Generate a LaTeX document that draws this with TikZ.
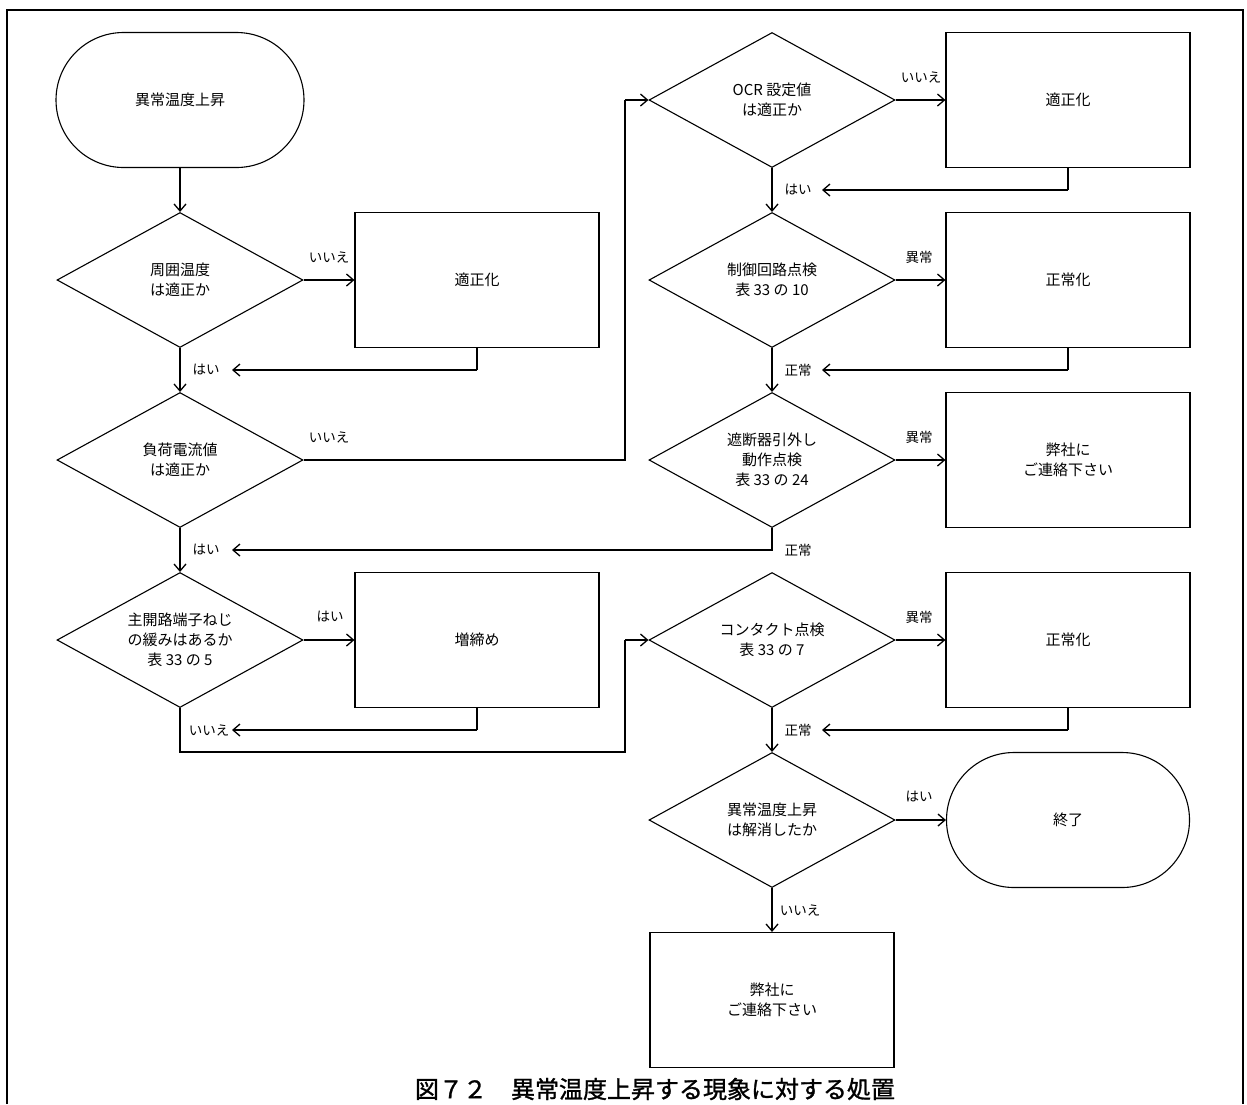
\documentclass[tikz,border=0pt]{standalone}
\usepackage{fontspec}
\setmainfont{Noto Sans CJK JP}
\newfontfamily\capfamily{Noto Sans CJK JP}[FakeBold=1.2]
\usetikzlibrary{arrows.meta,shapes.geometric,shapes.misc}
\newcommand\mynodefont{\fontsize{15pt}{20pt}\selectfont}
\newcommand\mylabfont{\fontsize{13.5pt}{16pt}\selectfont}
\newcommand\mycapfont{\capfamily\fontsize{24pt}{28pt}\selectfont}
\begin{document}
\begin{tikzpicture}[x=1pt,y=-1pt,
  box/.style={draw,line width=1.1pt,rectangle,minimum width=244pt,minimum height=135pt,inner sep=0pt,align=center,font=\mynodefont},
  dec/.style={draw,line width=1.1pt,diamond,aspect=1.82,minimum width=246pt,minimum height=135pt,inner sep=0pt,align=center,font=\mynodefont},
  term/.style={draw,line width=1.1pt,rounded rectangle,minimum width=248pt,minimum height=135pt,inner sep=0pt,align=center,font=\mynodefont},
  conn/.style={line width=2.2pt,-{Straight Barb[length=7pt,width=12pt,line width=1.3pt]}},
  wire/.style={line width=1.1pt},
  lab/.style={font=\mylabfont,inner sep=0pt},
]
\useasboundingbox (0,0) rectangle (1247,1104);
% outer frame
\draw[line width=1.1pt] (7,1104) -- (7,10) -- (1243,10) -- (1243,1104);

% left column
\node[term] (start) at (180,100) {異常温度上昇};
\node[dec] (d1) at (180,280) {周囲温度\\は適正か};
\node[box] (r1) at (477,280) {適正化};
\node[dec] (d2) at (180,460) {負荷電流値\\は適正か};
\node[dec] (d4) at (180,640) {主開路端子ねじ\\の緩みはあるか\\表 33 の 5};
\node[box] (r4) at (477,640) {増締め};

% right column
\node[dec] (d3) at (772,100) {OCR 設定値\\は適正か};
\node[box] (r3) at (1068,100) {適正化};
\node[dec] (dc) at (772,280) {制御回路点検\\表 33 の 10};
\node[box] (rc) at (1068,280) {正常化};
\node[dec] (d5) at (772,460) {遮断器引外し\\動作点検\\表 33 の 24};
\node[box] (r5) at (1068,460) {弊社に\\ご連絡下さい};
\node[dec] (d6) at (772,640) {コンタクト点検\\表 33 の 7};
\node[box] (r6) at (1068,640) {正常化};
\node[dec] (d7) at (772,820) {異常温度上昇\\は解消したか};
\node[term,minimum width=243pt] (end) at (1068,820) {終了};
\node[box] (rf) at (772,1000) {弊社に\\ご連絡下さい};

% free ends and bends
\coordinate (k1) at (232,370);
\coordinate (k2) at (232,550);
\coordinate (k3) at (232,730);
\coordinate (m1) at (822,190);
\coordinate (m2) at (822,370);
\coordinate (m3) at (822,730);
\coordinate (b1) at (625,100);
\coordinate (b2) at (625,640);
\coordinate (b3) at (625,752);

% connectors left
\draw[conn] (start.south) -- (d1.north);
\draw[conn] (d1.east) -- (r1.west);
\draw[wire] (r1.south) -- (r1.south |- k1);
\draw[conn] (r1.south |- k1) -- (k1);
\draw[conn] (d1.south) -- (d2.north);
\draw[wire] (d2.east) -| (b1);
\draw[conn] (b1) -- (d3.west);
\draw[conn] (d2.south) -- (d4.north);
\draw[conn] (d5.south) |- (k2);
\draw[conn] (d4.east) -- (r4.west);
\draw[wire] (r4.south) -- (r4.south |- k3);
\draw[conn] (r4.south |- k3) -- (k3);
\draw[wire] (d4.south) |- (b3) -- (b2);
\draw[conn] (b2) -- (d6.west);

% connectors right
\draw[conn] (d3.east) -- (r3.west);
\draw[wire] (r3.south) -- (r3.south |- m1);
\draw[conn] (r3.south |- m1) -- (m1);
\draw[conn] (d3.south) -- (dc.north);
\draw[conn] (dc.east) -- (rc.west);
\draw[wire] (rc.south) -- (rc.south |- m2);
\draw[conn] (rc.south |- m2) -- (m2);
\draw[conn] (dc.south) -- (d5.north);
\draw[conn] (d5.east) -- (r5.west);
\draw[conn] (d6.east) -- (r6.west);
\draw[wire] (r6.south) -- (r6.south |- m3);
\draw[conn] (r6.south |- m3) -- (m3);
\draw[conn] (d6.south) -- (d7.north);
\draw[conn] (d7.east) -- (end.west);
\draw[conn] (d7.south) -- (rf.north);

% labels
\node[lab] (l1) at (329,257) {いいえ};
\node[lab] (l2) at (206,370) {はい};
\node[lab] (l3) at (329,437) {いいえ};
\node[lab] (l4) at (206,550) {はい};
\node[lab] (l5) at (330,617) {はい};
\node[lab] (l6) at (209,730) {いいえ};
\node[lab] (l7) at (921,77) {いいえ};
\node[lab] (l8) at (798,190) {はい};
\node[lab] (l9) at (919,257) {異常};
\node[lab] (l10) at (798,370) {正常};
\node[lab] (l11) at (919,437) {異常};
\node[lab] (l12) at (798,550) {正常};
\node[lab] (l13) at (919,617) {異常};
\node[lab] (l14) at (798,730) {正常};
\node[lab] (l15) at (919,797) {はい};
\node[lab] (l16) at (800,910) {いいえ};

% caption
\node[font=\mycapfont,inner sep=0pt] (cap) at (655,1089) {図７２　異常温度上昇する現象に対する処置};
\end{tikzpicture}
\end{document}
